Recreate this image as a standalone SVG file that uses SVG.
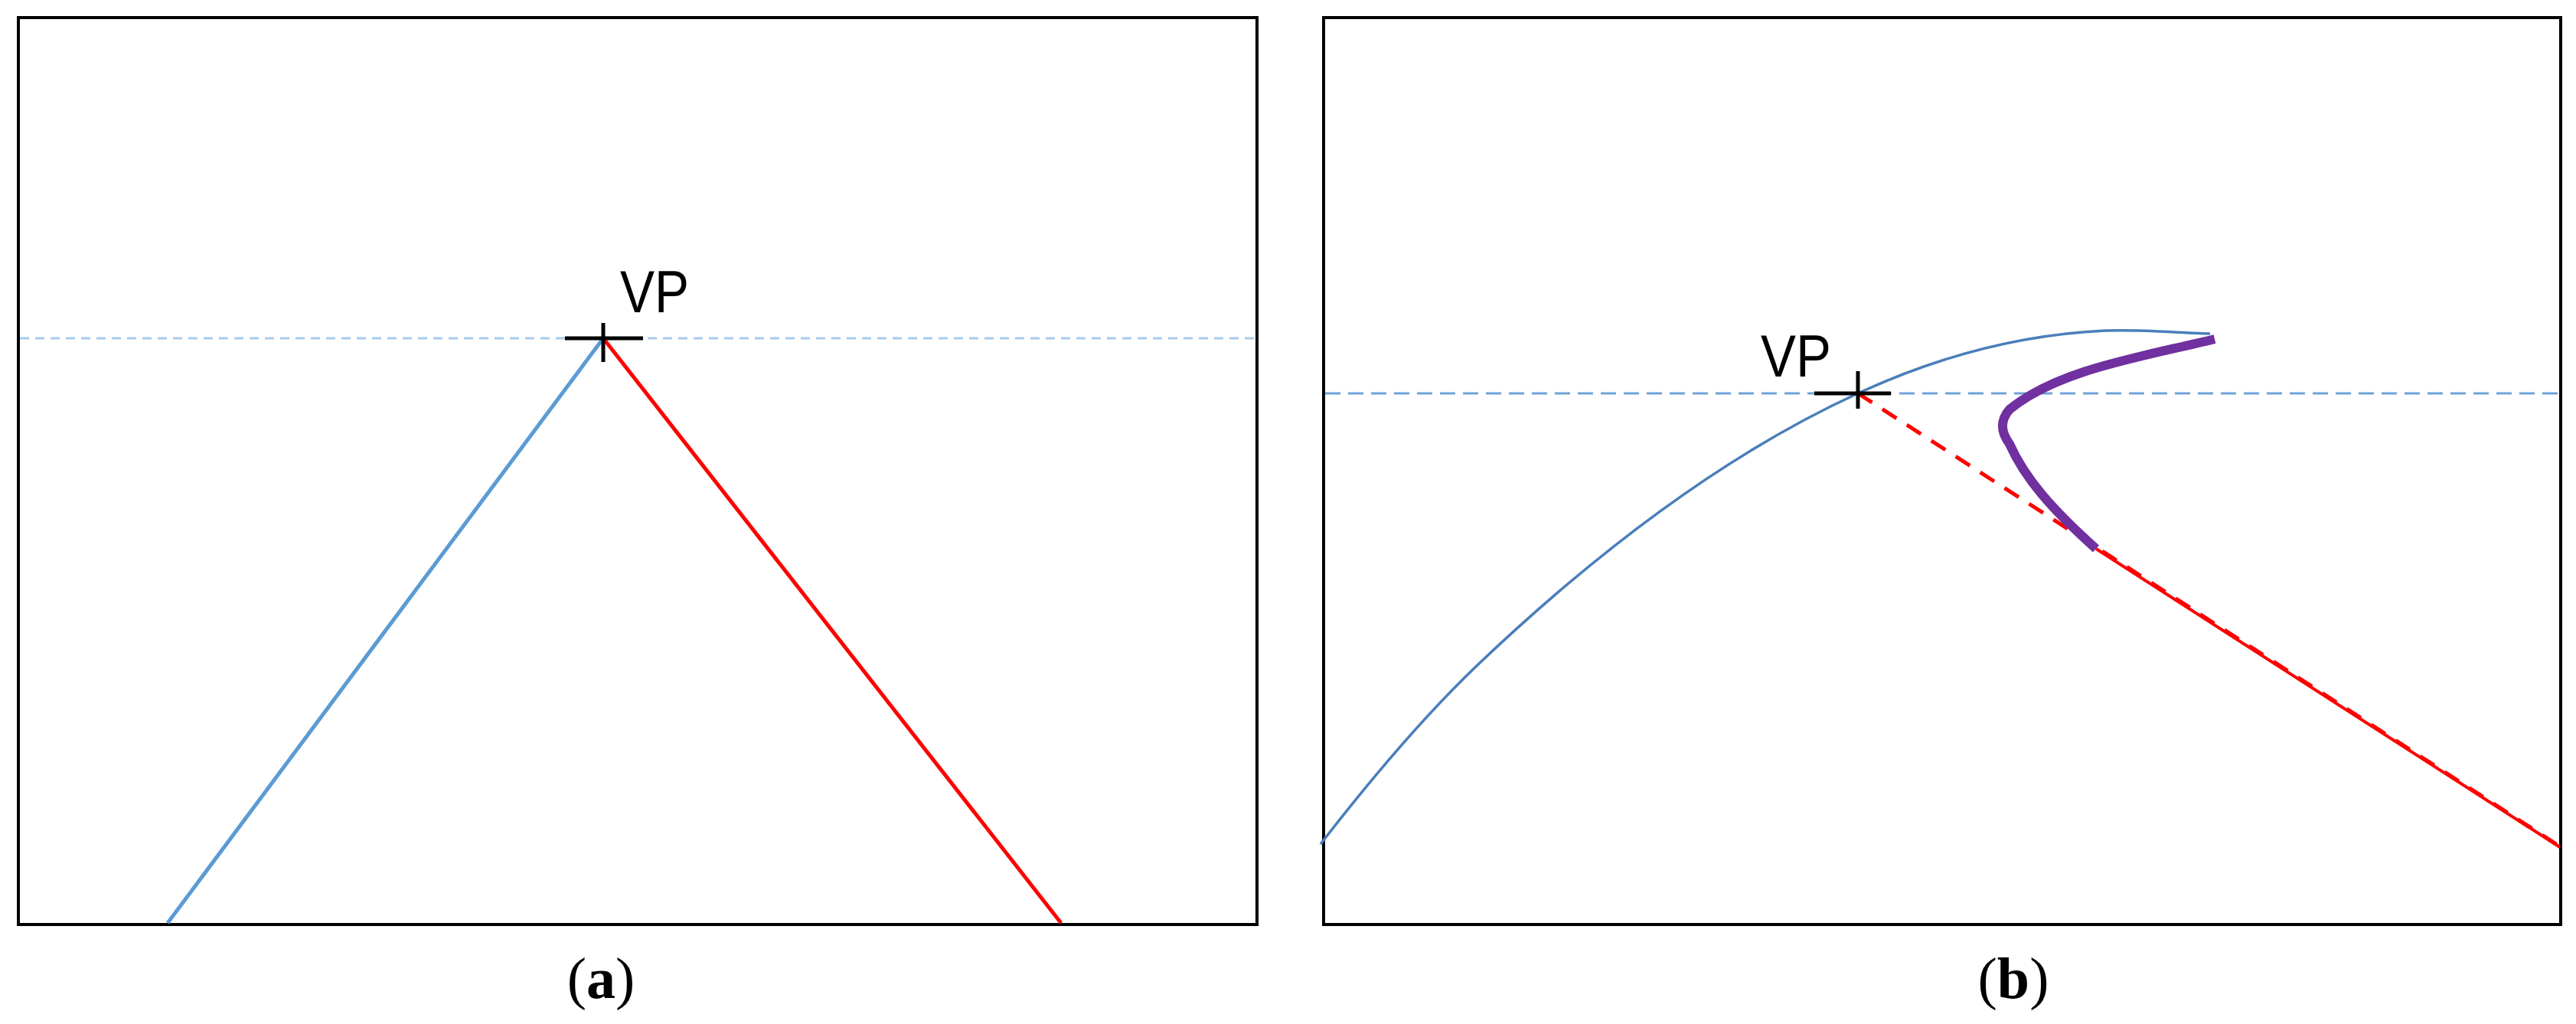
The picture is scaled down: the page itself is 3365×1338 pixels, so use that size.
<svg xmlns="http://www.w3.org/2000/svg" width="3365" height="1338" viewBox="0 0 3365 1338">
<style>
.frame{fill:none;stroke:#000;stroke-width:4}
.cross{stroke:#000;stroke-width:5;fill:none}
.vp{font-family:"Liberation Sans",Arial,sans-serif;font-size:78px;fill:#000}
.cap{font-family:"Liberation Serif","Times New Roman",serif;font-size:76px;fill:#000}
</style>
<rect width="3365" height="1338" fill="#fff"/>
<g id="panel-a">
  <rect class="frame" x="24" y="23" width="1618" height="1185"/>
  <line x1="26" y1="442" x2="1640" y2="442" stroke="#a9cbeb" stroke-width="3" stroke-dasharray="12 8"/>
  <line x1="219" y1="1206" x2="788" y2="442" stroke="#5b9bd5" stroke-width="5"/>
  <line x1="788" y1="442" x2="1386" y2="1206" stroke="#ff0000" stroke-width="5"/>
  <g id="vp-a" class="cross">
    <line x1="738" y1="442" x2="840" y2="442"/>
    <line x1="788" y1="422" x2="788" y2="473"/>
  </g>
  <text class="vp" x="810" y="408" textLength="90" lengthAdjust="spacingAndGlyphs">VP</text>
  <text class="cap" x="785" y="1304" text-anchor="middle">(<tspan font-weight="bold">a</tspan>)</text>
</g>
<g id="panel-b">
  <rect class="frame" x="1729" y="23" width="1616" height="1185"/>
  <line x1="1731" y1="514" x2="3343" y2="514" stroke="#6fa3d8" stroke-width="3" stroke-dasharray="20 10"/>
  <path d="M1725,1103 C1793,1015 1862,934 1930,869 C2096,711 2261,590 2427,514 C2535,464 2642,437 2750,432 C2796,430 2841,435 2887,436" fill="none" stroke="#4a7ebb" stroke-width="3.5"/>
  <line x1="2427" y1="514" x2="3344" y2="1106" stroke="#ff0000" stroke-width="5" stroke-dasharray="22 16"/>
  <line x1="2738" y1="717" x2="3344" y2="1107" stroke="#ff0000" stroke-width="4"/>
  <path d="M2893,443 C2800,466 2690,482 2625,535 C2612,550 2614,565 2625,580 C2645,625 2680,665 2738,717" fill="none" stroke="#7030a0" stroke-width="12"/>
  <g id="vp-b" class="cross">
    <line x1="2370" y1="514" x2="2470" y2="514"/>
    <line x1="2427" y1="485" x2="2427" y2="534"/>
  </g>
  <text class="vp" x="2300" y="492" textLength="92" lengthAdjust="spacingAndGlyphs">VP</text>
  <text class="cap" x="2630" y="1304" text-anchor="middle">(<tspan font-weight="bold">b</tspan>)</text>
</g>
</svg>
